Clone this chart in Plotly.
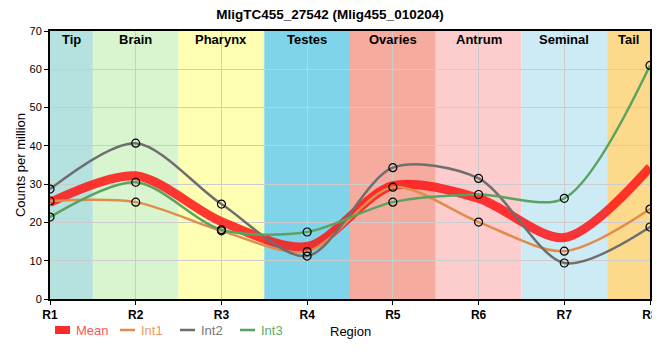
import plotly.graph_objects as go

regions = ["R1", "R2", "R3", "R4", "R5", "R6", "R7", "R8"]
int1 = [25.6, 25.3, 17.8, 12.4, 29.2, 20.1, 12.5, 23.5]
int2 = [28.7, 40.7, 24.8, 11.2, 34.3, 31.5, 9.4, 18.8]
int3 = [21.4, 30.5, 18.1, 17.5, 25.3, 27.3, 26.3, 61.0]
mean = [round((a + b + c) / 3, 2) for a, b, c in zip(int1, int2, int3)]

band_names = ["Tip", "Brain", "Pharynx", "Testes", "Ovaries", "Antrum", "Seminal", "Tail"]
band_colors = ["#b5e2de", "#d8f5cf", "#ffffb4", "#80d4ea", "#f5ab9e", "#fdcccc", "#cdebf4", "#fdd98b"]

FONT = "Liberation Sans, Arial, sans-serif"

# page body has an 8px margin; the figure is sized/offset to compensate
OFF = 8
W, H = 652, 344
L, R, T, B = 42, 10, 23, 53
PW, PH = W - L - R, H - T - B


def px_to_paper(px, py):
    # px, py: position in the photographed page
    return (px - OFF - L) / PW, (H - B - (py - OFF)) / PH


x = list(range(len(regions)))
fig = go.Figure()

series = [
    ("Int1", int1, "#e08c4c", "#eb9a62"),
    ("Int2", int2, "#6e6e6e", "#777777"),
    ("Int3", int3, "#5aa35f", "#5fab66"),
]

fig.add_trace(go.Scatter(
    x=x, y=mean, mode="lines", name="Mean",
    line=dict(color="rgba(255,20,20,0.85)", width=9, shape="spline", smoothing=0.85),
))
for name, vals, col, _ in series:
    fig.add_trace(go.Scatter(
        x=x, y=vals, mode="lines", name=name,
        line=dict(color=col, width=2.5, shape="spline", smoothing=0.85),
    ))
for name, vals, col, _ in series:
    fig.add_trace(go.Scatter(
        x=x, y=vals, mode="markers", showlegend=False, name=name,
        marker=dict(symbol="circle-open", size=8, color="black", line=dict(width=1.2, color="black")),
    ))

shapes = []
annotations = []
for i, (bn, bc) in enumerate(zip(band_names, band_colors)):
    x0 = max(i - 0.5, 0)
    x1 = min(i + 0.5, len(regions) - 1)
    shapes.append(dict(type="rect", xref="x", yref="paper", x0=x0, x1=x1, y0=0, y1=1,
                       fillcolor=bc, line=dict(width=0), layer="below"))
    annotations.append(dict(x=(x0 + x1) / 2, y=1, xref="x", yref="paper", yanchor="top", yshift=1,
                            text=f"<b>{bn}</b>", showarrow=False,
                            font=dict(size=13, color="black", family=FONT)))

# custom legend row
leg_y = 330
mx0, my0 = px_to_paper(55, leg_y - 4)
mx1, my1 = px_to_paper(70, leg_y + 4)
shapes.append(dict(type="rect", xref="paper", yref="paper", x0=mx0, x1=mx1, y0=my1, y1=my0,
                   fillcolor="#ff2a2a", line=dict(width=0)))
tx, ty = px_to_paper(74, leg_y)
annotations.append(dict(x=tx, y=ty, xref="paper", yref="paper", xanchor="left", yanchor="middle",
                        text="Mean", showarrow=False, font=dict(size=13, color="#ff5555", family=FONT)))
for k, (name, vals, col, tcol) in enumerate(series):
    sx = 120 + 60 * k
    lx0, ly = px_to_paper(sx, leg_y)
    lx1, _ = px_to_paper(sx + 15, leg_y)
    shapes.append(dict(type="line", xref="paper", yref="paper", x0=lx0, x1=lx1, y0=ly, y1=ly,
                       line=dict(color=col, width=2.5)))
    tx, ty = px_to_paper(sx + 19, leg_y)
    annotations.append(dict(x=tx, y=ty, xref="paper", yref="paper", xanchor="left", yanchor="middle",
                            text=name, showarrow=False, font=dict(size=13, color=tcol, family=FONT)))
rx, ry = px_to_paper(350, 331)
annotations.append(dict(x=rx, y=ry, xref="paper", yref="paper", xanchor="center", yanchor="middle",
                        text="Region", showarrow=False, font=dict(size=13, color="black", family=FONT)))

fig.update_layout(
    width=W, height=H,
    margin=dict(l=L, r=R, t=T, b=B, autoexpand=False),
    paper_bgcolor="white", plot_bgcolor="white",
    title=dict(text="<b>MligTC455_27542 (Mlig455_010204)</b>", x=(330 - OFF) / W, xanchor="center",
               y=1 - 1.5 / H, yanchor="top", pad=dict(t=0),
               font=dict(size=13.5, color="black", family=FONT)),
    font=dict(family=FONT, color="black"),
    shapes=shapes, annotations=annotations,
    showlegend=False,
    xaxis=dict(tickmode="array", tickvals=x, ticktext=[f"<b>{r}</b>" for r in regions],
               range=[0, len(regions) - 1], showgrid=True, gridcolor="#cccccc",
               showline=True, linecolor="black", linewidth=2, mirror=True,
               ticks="outside", ticklen=4, tickcolor="black", tickfont=dict(size=12),
               ticklabeloverflow="allow",
               zeroline=False, automargin=False),
    yaxis=dict(range=[0, 70], dtick=10, showgrid=True, gridcolor="#cccccc",
               showline=True, linecolor="black", linewidth=2, mirror=True,
               ticks="outside", ticklen=4, tickcolor="black", tickfont=dict(size=11),
               title=dict(text="Counts per million", font=dict(size=13), standoff=1),
               zeroline=False, automargin=False),
)

fig.write_html("out.html")
